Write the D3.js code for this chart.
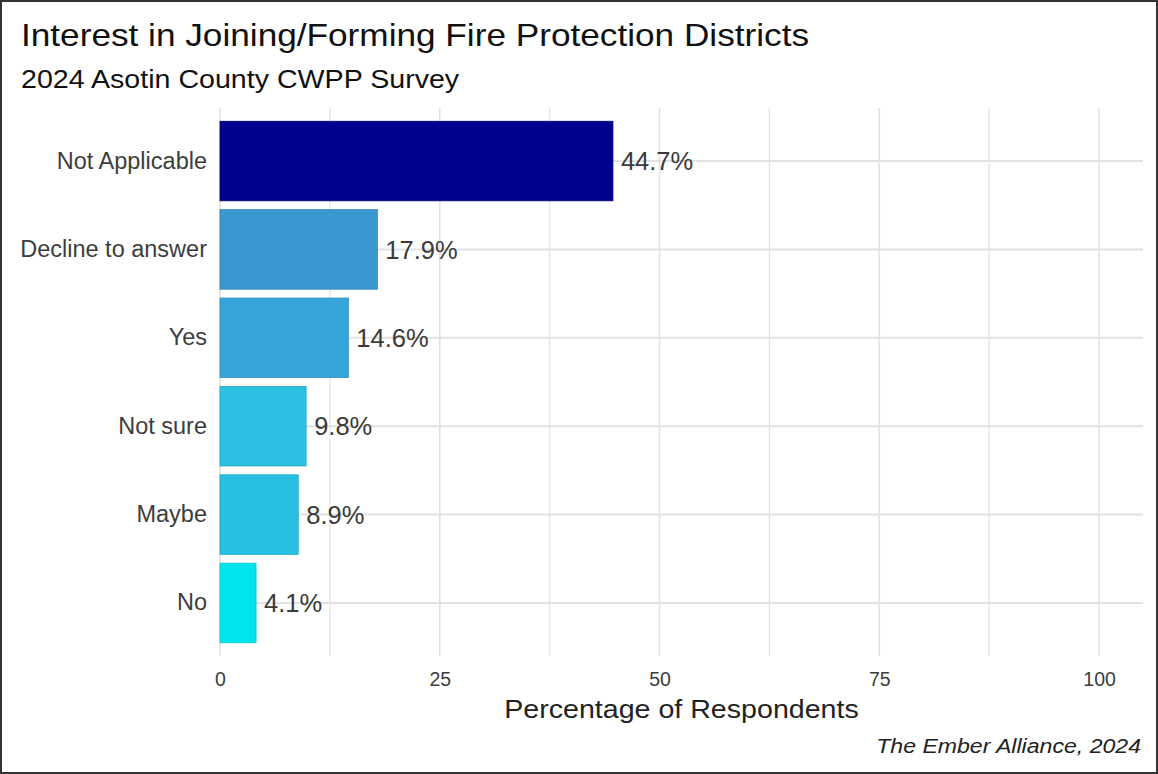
<!DOCTYPE html>
<html><head><meta charset="utf-8">
<script src="https://cdn.jsdelivr.net/npm/d3@7"></script>
<style>body{margin:0;background:#fff}svg{display:block;font-family:"Liberation Sans",Arial,sans-serif}</style>
</head><body><svg id="c" width="1158" height="774"></svg>
<script>
const categories = ["Not Applicable","Decline to answer","Yes","Not sure","Maybe","No"];
const values = [44.7,17.9,14.6,9.8,8.9,4.1];
const barColors = ["#00008e","#3a98d0","#36a6da","#2ec0e2","#28bfe2","#00e4ee"];
const xTicks = [0,25,50,75,100];
const xMinor = [12.5,37.5,62.5,87.5];

const svg = d3.select("#c");
const W=1158,H=774;
svg.append("rect").attr("x",1).attr("y",1).attr("width",W-2).attr("height",H-2).attr("fill","#fff").attr("stroke","#333").attr("stroke-width",2);

const L=220,R=1143,T=108,B=656;
const x = d3.scaleLinear().domain([0,105]).range([L,R]);
const y = d3.scaleBand().domain(categories).range([T,B]).paddingInner(0.1).paddingOuter(0.15);

// horizontally widened text helper (reference glyphs are wider than tall)
function wideText(sel, sx){
  sel.each(function(){
    const t=d3.select(this), xx=+t.attr("x");
    t.attr("transform",`translate(${xx},0) scale(${sx},1) translate(${-xx},0)`);
  });
  return sel;
}

const g = svg.append("g");
// grid
g.selectAll(".vmin").data(xMinor).join("line").attr("x1",d=>x(d)).attr("x2",d=>x(d)).attr("y1",T).attr("y2",B).attr("stroke","#e6e6e6").attr("stroke-width",1.4);
g.selectAll(".vmaj").data(xTicks).join("line").attr("x1",d=>x(d)).attr("x2",d=>x(d)).attr("y1",T).attr("y2",B).attr("stroke","#e2e2e2").attr("stroke-width",1.6);
g.selectAll(".hmaj").data(categories).join("line").attr("x1",L).attr("x2",R).attr("y1",d=>y(d)+y.bandwidth()/2).attr("y2",d=>y(d)+y.bandwidth()/2).attr("stroke","#e2e2e2").attr("stroke-width",2);

// bars
g.selectAll(".bar").data(categories).join("rect")
  .attr("x",x(0)).attr("y",d=>y(d))
  .attr("width",(d,i)=>x(values[i])-x(0)).attr("height",y.bandwidth())
  .attr("fill",(d,i)=>barColors[i]).attr("stroke",(d,i)=>d3.color(barColors[i]).darker(0.4)).attr("stroke-width",0.8);

// value labels
g.selectAll(".lab").data(categories).join("text")
  .attr("x",(d,i)=>x(values[i])+8).attr("y",d=>y(d)+y.bandwidth()/2).attr("dy","0.36em")
  .attr("font-size",25.5).attr("fill","#3a3a3a").text((d,i)=>values[i].toFixed(1)+"%");

// y axis labels
const ya = d3.axisLeft(y).tickSize(0).tickPadding(13);
const yg = svg.append("g").attr("transform",`translate(${L},0)`).call(ya);
yg.select(".domain").remove();
yg.selectAll("text").attr("font-size",23.5).attr("fill","#3d3d3d").attr("font-family","Liberation Sans, Arial, sans-serif");

// x axis
const xa = d3.axisBottom(x).tickValues(xTicks).tickSize(0).tickPadding(16).tickFormat(d3.format("d"));
const xg = svg.append("g").attr("transform",`translate(0,${B})`).call(xa);
xg.select(".domain").remove();
xg.selectAll("text").attr("font-size",19.5).attr("fill","#3d3d3d").attr("font-family","Liberation Sans, Arial, sans-serif");

svg.append("text").attr("x",(L+R)/2).attr("y",718).attr("text-anchor","middle").attr("font-size",26).attr("fill","#222").text("Percentage of Respondents").call(wideText,1.1);
svg.append("text").attr("x",21).attr("y",46).attr("font-size",32).attr("fill","#111").text("Interest in Joining/Forming Fire Protection Districts").call(wideText,1.1);
svg.append("text").attr("x",21).attr("y",88).attr("font-size",26).attr("fill","#111").text("2024 Asotin County CWPP Survey").call(wideText,1.1);
svg.append("text").attr("x",1141).attr("y",753).attr("text-anchor","end").attr("font-size",21).attr("font-style","italic").attr("fill","#222").text("The Ember Alliance, 2024").call(wideText,1.1);
</script></body></html>
